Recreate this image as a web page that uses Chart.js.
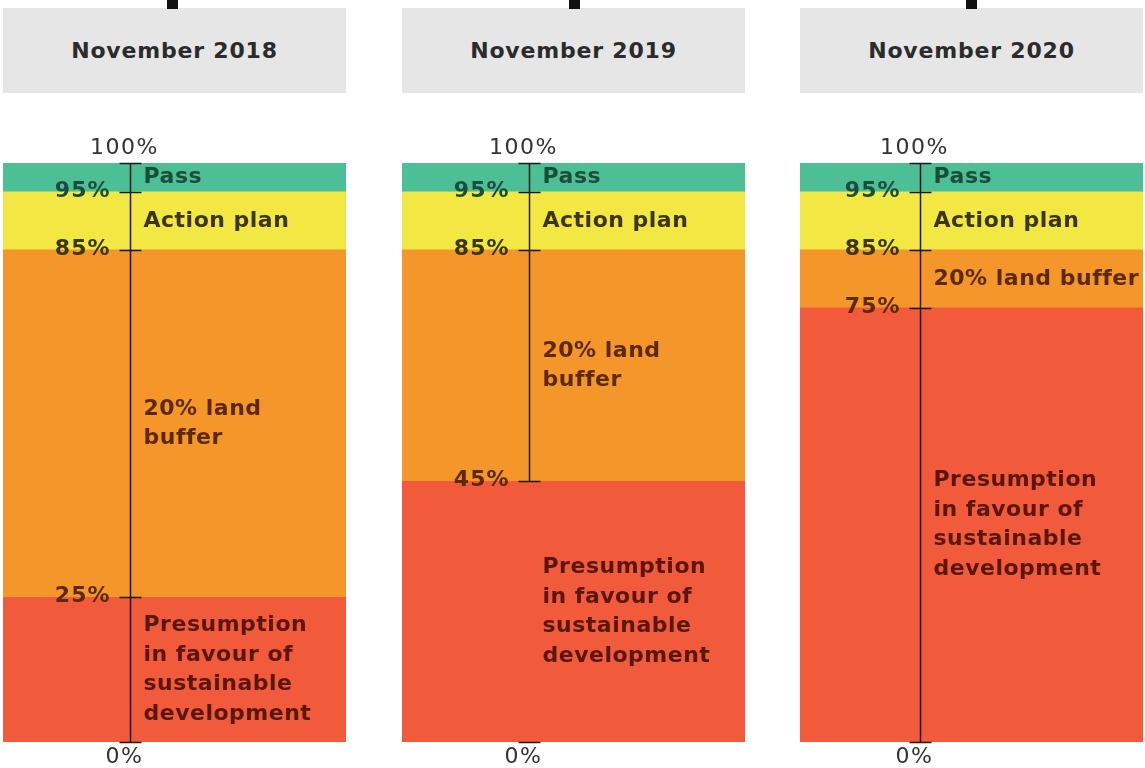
<!DOCTYPE html>
<html>
<head>
<meta charset="utf-8">
<title>Housing Delivery Test thresholds</title>
<script src="https://cdn.jsdelivr.net/npm/chart.js"></script>
<style>
  body{margin:0;background:#fff;width:1145px;height:768px;overflow:hidden;position:relative;font-family:"DejaVu Sans",sans-serif;}
  .head{position:absolute;top:8px;width:343px;height:85px;background:#e6e6e6;display:flex;align-items:center;justify-content:center;
        font:bold 22px "DejaVu Sans",sans-serif;letter-spacing:0.8px;color:#2b2b2b;}
  .stub{position:absolute;top:0;width:11px;height:9px;background:#111;}
  .panel{position:absolute;top:120px;}
</style>
</head>
<body>
<script>
// data
const categories = ['November 2018', 'November 2019', 'November 2020'];
const presumption = [25, 45, 75];
const landBuffer  = [60, 40, 10];
const actionPlan  = [10, 10, 10];
const pass        = [5, 5, 5];

const tickLabels = [
  [100, 95, 85, 25, 0],
  [100, 95, 85, 45, 0],
  [100, 95, 85, 75, 0]
];
// where the axis line stops (panel 2 only runs down to 45%)
const axisBottom = [0, 45, 0];

const segmentNames = ['Presumption in favour of sustainable development', '20% land buffer', 'Action plan', 'Pass'];
// line breaks as printed, per panel
const segmentLines = [
  [['Presumption', 'in favour of', 'sustainable', 'development'], ['20% land', 'buffer'], ['Action plan'], ['Pass']],
  [['Presumption', 'in favour of', 'sustainable', 'development'], ['20% land', 'buffer'], ['Action plan'], ['Pass']],
  [['Presumption', 'in favour of', 'sustainable', 'development'], ['20% land buffer'], ['Action plan'], ['Pass']]
];

const fills     = ['#f15a3a', '#f5962b', '#f3e743', '#4cbf96'];
const textCols  = ['#5a1710', '#5c2a08', '#3a3616', '#1c4d3b'];

const panelLeft = [3, 402, 800];
const axisFrac  = [0.37, 0.37, 0.35];
const stubLeft  = [167, 569, 966];

const axisPlugin = {
  id: 'axisPlugin',
  afterDatasetsDraw(chart) {
    const i = chart.options.panelIndex;
    const ctx = chart.ctx;
    const ya = chart.scales.y;
    const area = chart.chartArea;
    const ax = Math.round(area.left + axisFrac[i] * (area.right - area.left)) + 0.5;

    // segment labels
    ctx.save();
    ctx.font = 'bold 22px "DejaVu Sans"';
    ctx.letterSpacing = '0.5px';
    ctx.textAlign = 'left';
    ctx.textBaseline = 'middle';
    chart.data.datasets.forEach((ds, k) => {
      const bar = chart.getDatasetMeta(k).data[0];
      const mid = (bar.y + bar.base) / 2;
      const lines = segmentLines[i][k];
      const lh = 29.5;
      ctx.fillStyle = textCols[k];
      lines.forEach((t, n) => {
        ctx.fillText(t, ax + 13, mid + (n - (lines.length - 1) / 2) * lh);
      });
    });
    ctx.restore();

    // axis line
    ctx.save();
    ctx.strokeStyle = '#1a1a1a';
    ctx.lineWidth = 1.5;
    ctx.beginPath();
    ctx.moveTo(ax, ya.getPixelForValue(100));
    ctx.lineTo(ax, ya.getPixelForValue(axisBottom[i]));
    ctx.stroke();

    // ticks + labels
    let cum = 0;
    const tops = [];
    chart.data.datasets.forEach(ds => { cum += ds.data[0]; tops.push(cum); });
    tickLabels[i].forEach(v => {
      const y = Math.round(ya.getPixelForValue(v)) + 0.5;
      ctx.beginPath();
      ctx.moveTo(ax - 11, y);
      ctx.lineTo(ax + 11, y);
      ctx.stroke();
      if (v === 100 || v === 0) {
        ctx.font = '22px "DejaVu Sans"';
        ctx.letterSpacing = '1.5px';
        ctx.fillStyle = '#333';
        ctx.textAlign = 'center';
        ctx.textBaseline = 'middle';
        ctx.fillText(v + '%', ax - 6, v === 100 ? y - 15 : y + 15);
      } else {
        const k = tops.findIndex(t => t > v);
        ctx.font = 'bold 22px "DejaVu Sans"';
        ctx.letterSpacing = '1px';
        ctx.fillStyle = textCols[k];
        ctx.textAlign = 'right';
        ctx.textBaseline = 'middle';
        ctx.fillText(v + '%', ax - 20, y - 1);
      }
    });
    ctx.restore();
  }
};

const series = [presumption, landBuffer, actionPlan, pass];

categories.forEach((cat, i) => {
  const head = document.createElement('div');
  head.className = 'head';
  head.style.left = panelLeft[i] + 'px';
  head.textContent = cat;
  document.body.appendChild(head);

  const stub = document.createElement('div');
  stub.className = 'stub';
  stub.style.left = stubLeft[i] + 'px';
  document.body.appendChild(stub);

  const wrap = document.createElement('div');
  wrap.className = 'panel';
  wrap.style.left = panelLeft[i] + 'px';
  const cv = document.createElement('canvas');
  cv.width = 343; cv.height = 648;
  wrap.appendChild(cv);
  document.body.appendChild(wrap);

  new Chart(cv, {
    type: 'bar',
    data: {
      labels: [cat],
      datasets: series.map((s, k) => ({
        label: segmentNames[k],
        data: [s[i]],
        backgroundColor: fills[k],
        borderWidth: 0,
        barPercentage: 1,
        categoryPercentage: 1
      }))
    },
    options: {
      panelIndex: i,
      responsive: false,
      animation: false,
      layout: { padding: { top: 43, bottom: 26, left: 0, right: 0 } },
      plugins: { legend: { display: false }, tooltip: { enabled: false } },
      scales: {
        x: { stacked: true, display: false },
        y: { stacked: true, display: false, min: 0, max: 100 }
      }
    },
    plugins: [axisPlugin]
  });
});
</script>
</body>
</html>
